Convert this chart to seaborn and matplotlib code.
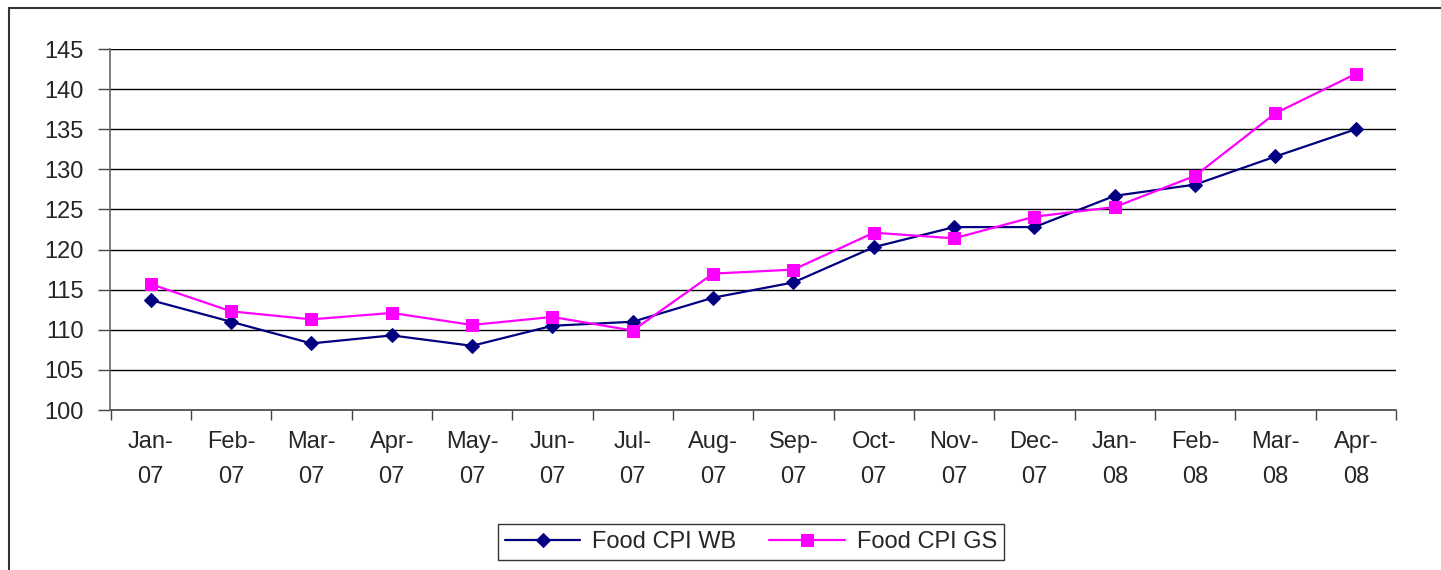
import matplotlib
matplotlib.use("Agg")
import matplotlib.pyplot as plt
import seaborn as sns
import pandas as pd
from matplotlib.patches import Rectangle

months = ["Jan-\n07", "Feb-\n07", "Mar-\n07", "Apr-\n07", "May-\n07", "Jun-\n07",
          "Jul-\n07", "Aug-\n07", "Sep-\n07", "Oct-\n07", "Nov-\n07", "Dec-\n07",
          "Jan-\n08", "Feb-\n08", "Mar-\n08", "Apr-\n08"]
food_cpi_wb = [113.7, 111.0, 108.3, 109.3, 108.0, 110.5, 111.0, 114.0,
               115.9, 120.3, 122.8, 122.8, 126.7, 128.1, 131.6, 135.0]
food_cpi_gs = [115.7, 112.3, 111.3, 112.1, 110.6, 111.6, 109.9, 117.0,
               117.5, 122.1, 121.4, 124.1, 125.3, 129.2, 137.0, 141.9]
y_ticks = [100, 105, 110, 115, 120, 125, 130, 135, 140, 145]

sns.set_theme(style="white")
plt.rcParams['font.family'] = ['Liberation Sans', 'DejaVu Sans']

df = pd.DataFrame({"month": months, "Food CPI WB": food_cpi_wb, "Food CPI GS": food_cpi_gs})
df["pos"] = range(len(months))

FS = 17

fig = plt.figure(figsize=(14.41, 5.70), dpi=100)
ax = fig.add_axes([110.5 / 1441, 1 - 410 / 570, (1396 - 110.5) / 1441, (410 - 49) / 570])

sns.lineplot(data=df, x="pos", y="Food CPI WB", ax=ax, color="#000080", lw=1.6,
             marker="D", markersize=7, markeredgecolor="#000080", label="Food CPI WB", sort=False)
sns.lineplot(data=df, x="pos", y="Food CPI GS", ax=ax, color="#FF00FF", lw=1.6,
             marker="s", markersize=9, markeredgecolor="#FF00FF", label="Food CPI GS", sort=False)

ax.set_xlim(-0.5, len(months) - 0.5)
ax.set_ylim(100, 145)
ax.set_yticks(y_ticks)
ax.set_yticklabels([str(v) for v in y_ticks], fontsize=FS)
ax.yaxis.grid(True, color="black", lw=1)
ax.set_axisbelow(True)

# category boundary tick marks, labels at centers
ax.set_xticks([i - 0.5 for i in range(len(months) + 1)])
ax.set_xticklabels([])
ax.set_xticks(list(range(len(months))), minor=True)
ax.set_xticklabels(months, minor=True, fontsize=FS, linespacing=1.75)
ax.tick_params(axis="x", which="major", direction="out", length=7, width=1, color="#444444", bottom=True)
ax.tick_params(axis="x", which="minor", length=0, pad=15)
ax.tick_params(axis="y", direction="out", length=9, width=1, color="#444444", left=True, pad=10)

for s in ["top", "right"]:
    ax.spines[s].set_visible(False)
ax.spines["left"].set_color("#666666")
ax.spines["bottom"].set_color("#444444")
ax.spines["left"].set_linewidth(1.2)
ax.spines["bottom"].set_linewidth(1.2)
ax.set_xlabel("")
ax.set_ylabel("")

ax.legend(loc="center", bbox_to_anchor=(751 / 1441, 1 - 542 / 570), bbox_transform=fig.transFigure,
          ncol=2, frameon=True, fancybox=False, edgecolor="black", fontsize=FS,
          handlelength=3.2, columnspacing=1.4, handletextpad=0.5, borderpad=0.3, borderaxespad=0)
leg = ax.get_legend()
leg.get_frame().set_linewidth(1)

fig.patches.append(Rectangle((9 / 1441, -0.1), 1.2, 1.1 - 8 / 570, transform=fig.transFigure,
                             fill=False, edgecolor="#333333", lw=1.5))

fig.savefig("out.png", dpi=100)
